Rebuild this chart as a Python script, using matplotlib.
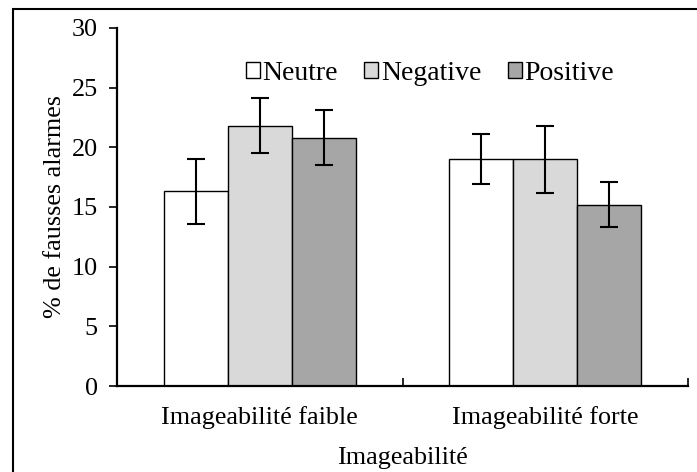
#!/usr/bin/env python
# coding:utf-8
"""plot.py - fausses alarmes par imageabilite"""

import numpy as np
import matplotlib.pyplot as plt
from matplotlib.patches import Rectangle

groups = ['Imageabilité faible', 'Imageabilité forte']
series = ['Neutre', 'Negative', 'Positive']
values = {
    'Neutre': [16.3, 19.0],
    'Negative': [21.8, 19.0],
    'Positive': [20.8, 15.2],
}
errors = {
    'Neutre': [2.7, 2.1],
    'Negative': [2.3, 2.8],
    'Positive': [2.3, 1.9],
}
colors = {'Neutre': '#ffffff', 'Negative': '#d9d9d9', 'Positive': '#a6a6a6'}


def main():
  plt.rcParams['font.family'] = ['Liberation Serif', 'DejaVu Serif']
  plt.rcParams['font.size'] = 18.8

  fig = plt.figure(figsize=(6.97, 4.72), dpi=100)
  ax = fig.add_axes([0.168, 0.182, 0.819, 0.759])

  x = np.arange(len(groups))
  width = 0.224
  for i, name in enumerate(series):
    ax.bar(x + (i - 1) * width, values[name], width, color=colors[name],
           edgecolor='black', linewidth=1.0, label=name, zorder=2)
    ax.errorbar(x + (i - 1) * width, values[name], yerr=errors[name], fmt='none',
                ecolor='black', elinewidth=1.5, capsize=6.5, capthick=1.5, zorder=3)

  ax.set_xlim(-0.5, 1.5)
  ax.set_ylim(0, 30)
  ax.set_yticks(range(0, 31, 5))
  ax.tick_params(axis='y', direction='out', length=6, width=1.2, pad=8)

  # category boundaries as inward ticks, labels at the centres
  ax.set_xticks([-0.5, 0.5, 1.5])
  ax.set_xticklabels([])
  ax.tick_params(axis='x', which='major', direction='in', length=6, width=1.2)
  ax.set_xticks(x, minor=True)
  ax.set_xticklabels(groups, minor=True)
  ax.tick_params(axis='x', which='minor', length=0, pad=14)

  for side in ['top', 'right']:
    ax.spines[side].set_visible(False)
  for side in ['left', 'bottom']:
    ax.spines[side].set_linewidth(1.6)

  ax.set_ylabel('% de fausses alarmes', labelpad=4)
  ax.set_xlabel('Imageabilité', labelpad=13)

  ax.legend(loc='center', bbox_to_anchor=(0.548, 0.872), ncol=3, frameon=False,
            fontsize=20, handlelength=0.5, handleheight=0.5, handletextpad=0.1,
            columnspacing=0.95, borderpad=0)

  # outer frame: only top and left edges fall inside the image
  fig.add_artist(Rectangle((13 / 697, -0.1), 1.2, 1.1 - 9 / 472,
                           transform=fig.transFigure, fill=False,
                           edgecolor='black', linewidth=1.5))

  fig.savefig('out.png', dpi=100)
  plt.close(fig)


if __name__ == '__main__':
  main()
